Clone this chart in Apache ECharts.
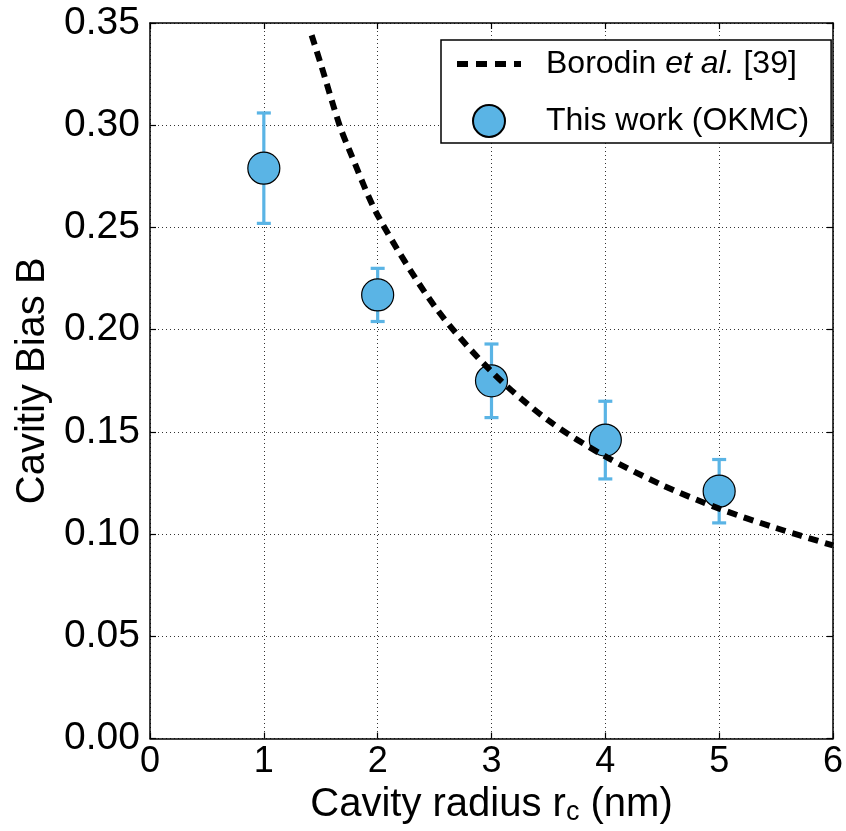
<!DOCTYPE html>
<html>
<head>
<meta charset="utf-8">
<script src="https://cdn.jsdelivr.net/npm/echarts@6/dist/echarts.min.js"></script>
<style>
html,body{margin:0;padding:0;background:#fff;}
#chart{width:846px;height:831px;}
</style>
</head>
<body>
<div id="chart"></div>
<script>
// ---- data ----
const radius = [1, 2, 3, 4, 5];                       // cavity radius (nm)
const biasOKMC = [0.279, 0.217, 0.175, 0.146, 0.121]; // This work (OKMC)
const biasErr = [0.027, 0.013, 0.018, 0.019, 0.0155]; // error bar half-heights
const borodinR = [1.42, 1.5, 1.665, 1.75, 2.0, 2.5, 3.0, 3.5, 4.0, 4.5, 5.0, 5.5, 6.0];
const borodinB = [0.344, 0.330, 0.300, 0.288, 0.256, 0.2115, 0.1795, 0.1556, 0.138, 0.124, 0.1125, 0.103, 0.0945];
const xTicks = [0, 1, 2, 3, 4, 5, 6];
const yTicks = [0.00, 0.05, 0.10, 0.15, 0.20, 0.25, 0.30, 0.35];

const FONT = "'Liberation Sans', Arial, Helvetica, sans-serif";
const BLUE = '#5AB4E5';

const chart = echarts.init(document.getElementById('chart'), null, {renderer: 'canvas'});

const frameAxis = {
  axisLine: {show: true, onZero: false, lineStyle: {color: '#000', width: 1.5}},
  axisTick: {show: true, inside: true, length: 6, lineStyle: {color: '#000', width: 1.2}},
  axisLabel: {show: false},
  splitLine: {show: false}
};

const option = {
  backgroundColor: '#fff',
  animation: false,
  grid: {left: 150, right: 12, top: 23, bottom: 91},
  legend: {
    left: 441, top: 40,
    orient: 'vertical',
    data: [
      {name: 'Borodin et al. [39]', itemStyle: {opacity: 0, borderWidth: 0},
       lineStyle: {color: '#000', width: 6, type: [11, 8], cap: 'butt'}},
      {name: 'This work (OKMC)'}
    ],
    itemWidth: 64, itemHeight: 32, itemGap: 24,
    padding: [8, 22, 5, 13],
    borderColor: '#000', borderWidth: 1.5, borderRadius: 0,
    backgroundColor: '#fff',
    formatter: function (name) {
      if (name.indexOf('Borodin') === 0) return '{sp|}{n|Borodin }{i|et al.}{n| [39]}';
      return '{sp|}{n|' + name + '}';
    },
    textStyle: {
      fontFamily: FONT, fontSize: 32, color: '#000',
      rich: {
        sp: {width: 20},
        n: {fontFamily: FONT, fontSize: 32, color: '#000'},
        i: {fontFamily: FONT, fontSize: 32, color: '#000', fontStyle: 'italic'}
      }
    }
  },
  xAxis: [{
    type: 'value', min: xTicks[0], max: xTicks[xTicks.length - 1], interval: 1,
    name: '{t|Cavity radius r}{s|c}{t| (nm)}',
    nameLocation: 'middle', nameGap: 36,
    nameTextStyle: {
      fontFamily: FONT, fontSize: 40, color: '#000',
      rich: {
        t: {fontFamily: FONT, fontSize: 40, color: '#000'},
        s: {fontFamily: FONT, fontSize: 27, color: '#000', padding: [16, 0, 0, 0]}
      }
    },
    axisLine: {show: true, onZero: false, lineStyle: {color: '#000', width: 1.5}},
    axisTick: {show: true, inside: true, length: 6, lineStyle: {color: '#000', width: 1.2}},
    axisLabel: {fontFamily: FONT, fontSize: 36, color: '#000', margin: 5},
    splitLine: {show: true, lineStyle: {color: '#333', width: 1, type: [1, 3]}}
  }, Object.assign({}, frameAxis, {
    type: 'value', position: 'top', min: xTicks[0], max: xTicks[xTicks.length - 1], interval: 1
  })],
  yAxis: [{
    type: 'value', min: yTicks[0], max: yTicks[yTicks.length - 1], interval: 0.05,
    name: 'Cavitiy Bias B',
    nameLocation: 'middle', nameGap: 94,
    nameTextStyle: {fontFamily: FONT, fontSize: 40, color: '#000'},
    axisLine: {show: true, onZero: false, lineStyle: {color: '#000', width: 1.5}},
    axisTick: {show: true, inside: true, length: 6, lineStyle: {color: '#000', width: 1.2}},
    axisLabel: {
      fontFamily: FONT, fontSize: 39, color: '#000', margin: 10,
      formatter: v => v.toFixed(2), padding: [0, 0, 8, 0]
    },
    splitLine: {show: true, lineStyle: {color: '#333', width: 1, type: [1, 3]}}
  }, Object.assign({}, frameAxis, {
    type: 'value', position: 'right', min: yTicks[0], max: yTicks[yTicks.length - 1], interval: 0.05
  })],
  series: [
    {
      name: 'errorbars',
      type: 'custom',
      z: 2,
      data: radius.map((r, i) => [r, biasOKMC[i] - biasErr[i], biasOKMC[i] + biasErr[i]]),
      renderItem: function (params, api) {
        const x = api.value(0);
        const lo = api.coord([x, api.value(1)]);
        const hi = api.coord([x, api.value(2)]);
        const cw = 7;
        const st = {stroke: BLUE, lineWidth: 3.2};
        return {
          type: 'group',
          children: [
            {type: 'line', shape: {x1: lo[0], y1: lo[1], x2: hi[0], y2: hi[1]}, style: st},
            {type: 'line', shape: {x1: lo[0] - cw, y1: lo[1], x2: lo[0] + cw, y2: lo[1]}, style: st},
            {type: 'line', shape: {x1: hi[0] - cw, y1: hi[1], x2: hi[0] + cw, y2: hi[1]}, style: st}
          ]
        };
      },
      encode: {x: 0, y: [1, 2]}
    },
    {
      name: 'This work (OKMC)',
      type: 'scatter',
      z: 3,
      symbol: 'circle',
      symbolSize: 32,
      itemStyle: {color: BLUE, borderColor: '#000', borderWidth: 1.2, opacity: 1},
      data: radius.map((r, i) => [r, biasOKMC[i]])
    },
    {
      name: 'Borodin et al. [39]',
      type: 'line',
      z: 4,
      smooth: 0.3,
      symbol: 'none',
      showSymbol: false,
      itemStyle: {color: '#000'},
      lineStyle: {color: '#000', width: 6, type: [10, 7], cap: 'butt'},
      data: borodinR.map((r, i) => [r, borodinB[i]])
    }
  ]
};
chart.setOption(option);
</script>
</body>
</html>
